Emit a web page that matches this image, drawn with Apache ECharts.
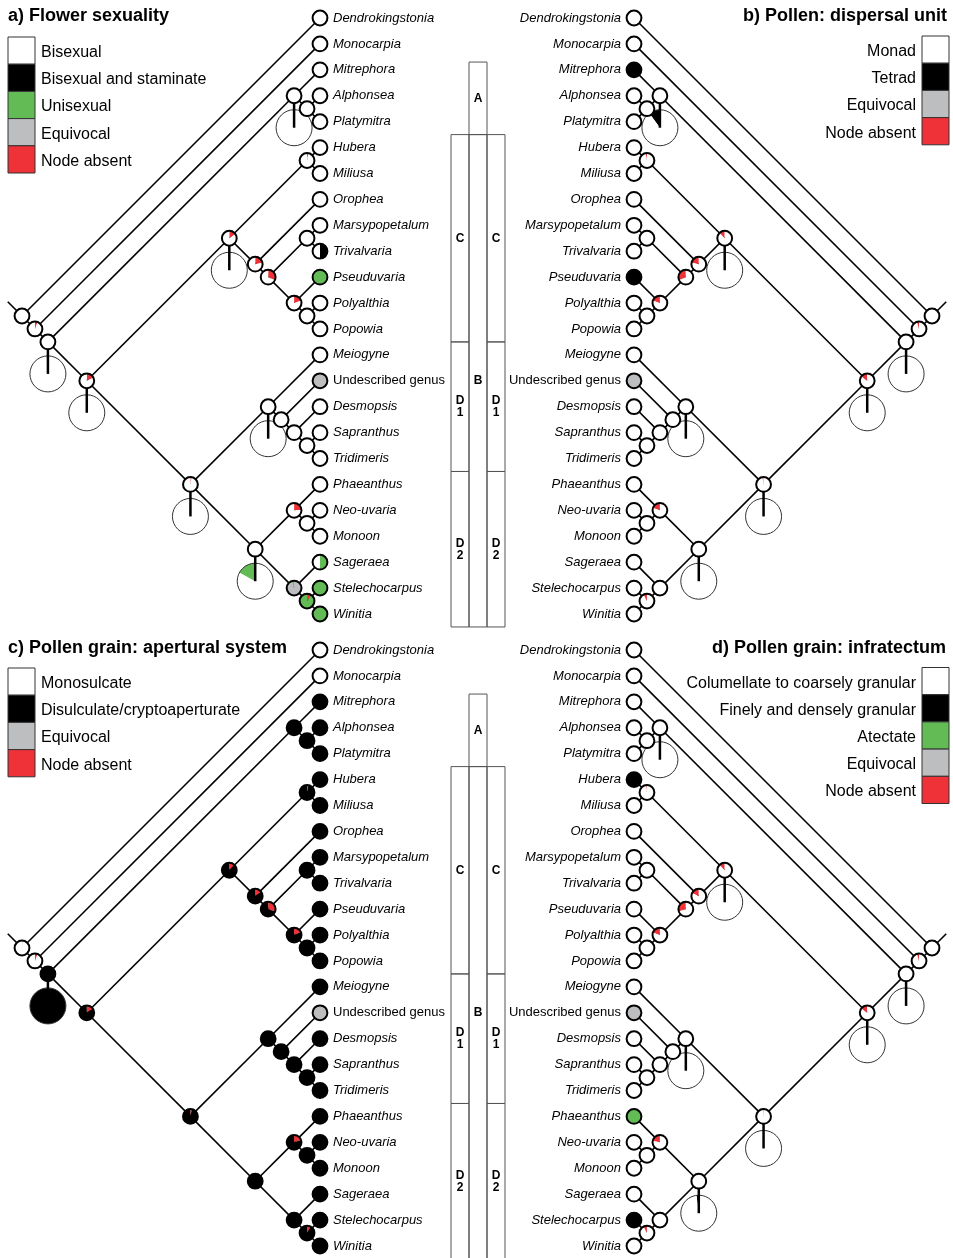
<!DOCTYPE html>
<html>
<head>
<meta charset="utf-8">
<script src="https://cdn.jsdelivr.net/npm/echarts@6/dist/echarts.min.js"></script>
<style>
  html, body { margin: 0; padding: 0; background: #fff; }
  #chart { width: 953px; height: 1258px; }
</style>
</head>
<body>
<div id="chart"></div>
<script>
// tip names, top to bottom
const tips = ['Dendrokingstonia', 'Monocarpia', 'Mitrephora', 'Alphonsea', 'Platymitra', 'Hubera', 'Miliusa',
  'Orophea', 'Marsypopetalum', 'Trivalvaria', 'Pseuduvaria', 'Polyalthia', 'Popowia', 'Meiogyne',
  'Undescribed genus', 'Desmopsis', 'Sapranthus', 'Tridimeris', 'Phaeanthus', 'Neo-uvaria', 'Monoon',
  'Sageraea', 'Stelechocarpus', 'Winitia'];
const plainTips = ['Undescribed genus'];

// topology (tip indices)
const cladeA = [2, [3, 4]];
const cladeC = [[5, 6], [7, [[8, 9], [10, [11, 12]]]]];
const cladeB = [13, [14, [15, [16, 17]]]];
const cladeD2 = [[18, [19, 20]], [21, [22, 23]]];
const tree = [0, [1, [cladeA, [cladeC, [cladeB, cladeD2]]]]];

// clade boxes in the middle: label, column, top edge, bottom edge (tip units)
const cladeBoxes = [['A', 1, 1.7, 4.5], ['C', 0, 4.5, 12.5], ['C', 2, 4.5, 12.5], ['B', 1, 4.5, 23.5],
  ['D\n1', 0, 12.5, 17.5], ['D\n1', 2, 12.5, 17.5], ['D\n2', 0, 17.5, 23.5], ['D\n2', 2, 17.5, 23.5]];

// pie codes: w white, k black, g green, e grey (equivocal), r red (node absent)
// "r.15 w" = 15% red then the rest white; internal nodes in preorder
const tipsA = ['w', 'w', 'w', 'w', 'w', 'w', 'w', 'w', 'w', 'k.5 w', 'g', 'w', 'w', 'w', 'e', 'w', 'w', 'w', 'w', 'w', 'w', 'g.5 w', 'g', 'g'];
const nodesA = ['w', 'r.06 w', 'w', 'w', 'w', 'r.18 w', 'r.15 w', 'r.03 w', 'r.22 w', 'r.32 w', 'w', 'r.2 w',
  'w', 'r.03 w', 'w', 'w', 'w', 'w', 'w', 'r.25 w', 'w', 'e.95 g', 'r.1 g'];
const bigA = [[2, 'w'], [3, 'w'], [5, 'w'], [6, 'w'], [13, 'w'], [14, 'w'], [18, 'w.83 g']];

const tipsB = ['w', 'w', 'k', 'w', 'w', 'w', 'w', 'w', 'w', 'w', 'k', 'w', 'w', 'w', 'e', 'w', 'w', 'w', 'w', 'w', 'w', 'w', 'w', 'w'];
const nodesB = ['w', 'r.05 w', 'w', 'w', 'w', 'r.15 w', 'r.12 w', 'r.03 w', 'r.22 w', 'r.32 w', 'w', 'r.2 w',
  'w', 'r.03 w', 'w', 'w', 'w', 'w', 'w', 'r.2 w', 'w', 'w', 'r.08 w'];
const bigB = [[2, 'w'], [3, 'k.1 w'], [5, 'w'], [6, 'w'], [13, 'w'], [14, 'w'], [18, 'w']];

const tipsC = ['w', 'w', 'k', 'k', 'k', 'k', 'k', 'k', 'k', 'k', 'k', 'k', 'k', 'k', 'e', 'k', 'k', 'k', 'k', 'k', 'k', 'k', 'k', 'k'];
const nodesC = ['k.01 w', 'r.06 w', 'k', 'k', 'k', 'r.15 k', 'r.12 k', 'r.03 k', 'r.15 k', 'r.3 k', 'k', 'r.18 k',
  'k', 'r.03 k', 'k', 'k', 'k', 'k', 'k', 'r.2 k', 'k', 'k', 'r.08 k'];
const bigC = [[2, 'k']];

const tipsD = ['w', 'w', 'w', 'w', 'w', 'k', 'w', 'w', 'w', 'w', 'w', 'w', 'w', 'w', 'e', 'w', 'w', 'w', 'g', 'w', 'w', 'w', 'k', 'w'];
const nodesD = ['w', 'r.05 w', 'w', 'w', 'w', 'r.15 w', 'r.12 w', 'r.02 w', 'r.18 w', 'r.3 w', 'w', 'r.2 w',
  'w', 'r.02 w', 'w', 'w', 'w', 'w', 'w', 'r.22 w', 'w', 'w', 'r.08 w'];
const bigD = [[2, 'w'], [3, 'w'], [5, 'w'], [6, 'w'], [13, 'w'], [14, 'w'], [18, 'k.02 w']];

// titles and legends
const titles = ['a) Flower sexuality', 'b) Pollen: dispersal unit', 'c) Pollen grain: apertural system', 'd) Pollen grain: infratectum'];
const legendA = ['Bisexual', 'Bisexual and staminate', 'Unisexual', 'Equivocal', 'Node absent'];
const legendAKeys = ['w', 'k', 'g', 'e', 'r'];
const legendB = ['Monad', 'Tetrad', 'Equivocal', 'Node absent'];
const legendBKeys = ['w', 'k', 'e', 'r'];
const legendC = ['Monosulcate', 'Disulculate/cryptoaperturate', 'Equivocal', 'Node absent'];
const legendCKeys = ['w', 'k', 'e', 'r'];
const legendD = ['Columellate to coarsely granular', 'Finely and densely granular', 'Atectate', 'Equivocal', 'Node absent'];
const legendDKeys = ['w', 'k', 'g', 'e', 'r'];

const COLORS = { w: '#ffffff', k: '#000000', g: '#62bb55', e: '#bcbec0', r: '#ee3237' };
const FONT = "'Liberation Sans', Arial, sans-serif";
const U = 596 / 23;       // px per tip step
const NODE_R = 7.4;
const BIG_R = 18;
const BIG_DROP = 32;      // px from node to big pie centre
const STEM = 0.55;        // root stem, tip units

// slanted cladogram layout
function layout(t) {
  const nodes = [];
  const edges = [];
  function walk(n) {
    if (typeof n === 'number') return { x: 0, y: n, lo: n, hi: n };
    const me = {};
    nodes.push(me);
    const kids = n.map(walk);
    me.lo = Math.min(...kids.map((k) => k.lo));
    me.hi = Math.max(...kids.map((k) => k.hi));
    me.y = (me.lo + me.hi) / 2;
    me.x = -(me.hi - me.lo) / 2;
    kids.forEach((k) => edges.push([me.x, me.y, k.x, k.y]));
    return me;
  }
  walk(t);
  const root = nodes[0];
  edges.push([root.x, root.y, root.x - STEM, root.y - STEM]);
  return { nodes, edges };
}
const { nodes, edges } = layout(tree);

function parsePie(code) {
  let used = 0;
  return code.split(' ').map((t) => {
    const f = t.length > 1 ? parseFloat(t.slice(1)) : 1 - used;
    used += f;
    return [t[0], f];
  });
}

function pieShapes(cx, cy, r, code, mirror, stroke, lw) {
  const out = [];
  let acc = 0;
  parsePie(code).forEach(([k, f]) => {
    if (f >= 0.999) {
      out.push({ type: 'circle', shape: { cx, cy, r }, style: { fill: COLORS[k] } });
    } else if (f > 0) {
      let a0 = -Math.PI / 2 + acc * 2 * Math.PI;
      let a1 = -Math.PI / 2 + (acc + f) * 2 * Math.PI;
      if (mirror) {
        const b0 = Math.PI - a1;
        const b1 = Math.PI - a0;
        a0 = b0;
        a1 = b1;
      }
      out.push({
        type: 'sector',
        shape: { cx, cy, r0: 0, r, startAngle: a0, endAngle: a1, clockwise: true },
        style: { fill: COLORS[k] },
      });
    }
    acc += f;
  });
  out.push({ type: 'circle', shape: { cx, cy, r }, style: { fill: 'none', stroke, lineWidth: lw } });
  return out;
}

const panels = [
  { left: 22, top: 18, mirror: false, tips: tipsA, nodes: nodesA, big: bigA },
  { left: 634, top: 18, mirror: true, tips: tipsB, nodes: nodesB, big: bigB },
  { left: 22, top: 650, mirror: false, tips: tipsC, nodes: nodesC, big: bigC },
  { left: 634, top: 650, mirror: true, tips: tipsD, nodes: nodesD, big: bigD },
];

const grid = [];
const xAxis = [];
const yAxis = [];
const series = [];

panels.forEach((p, i) => {
  grid.push({ left: p.left, top: p.top, width: 11.5 * U, height: 23 * U });
  xAxis.push({ gridIndex: i, type: 'value', min: -11.5, max: 0, inverse: p.mirror, show: false });
  yAxis.push({ gridIndex: i, type: 'value', min: 0, max: 23, inverse: true, show: false });

  // branches
  series.push({
    type: 'custom',
    xAxisIndex: i,
    yAxisIndex: i,
    z: 1,
    silent: true,
    data: edges,
    renderItem: (params, api) => {
      const a = api.coord([api.value(0), api.value(1)]);
      const b = api.coord([api.value(2), api.value(3)]);
      return {
        type: 'line',
        shape: { x1: a[0], y1: a[1], x2: b[0], y2: b[1] },
        style: { stroke: '#000', lineWidth: 1.6 },
      };
    },
  });

  // large pies hanging under some nodes
  series.push({
    type: 'custom',
    xAxisIndex: i,
    yAxisIndex: i,
    z: 2,
    silent: true,
    data: p.big.map(([idx]) => [nodes[idx].x, nodes[idx].y]),
    renderItem: (params, api) => {
      const c = api.coord([api.value(0), api.value(1)]);
      const cy = c[1] + BIG_DROP;
      const children = pieShapes(c[0], cy, BIG_R, p.big[params.dataIndex][1], p.mirror, '#333', 1);
      children.push({
        type: 'line',
        shape: { x1: c[0], y1: c[1], x2: c[0], y2: cy },
        style: { stroke: '#000', lineWidth: 2.5 },
      });
      return { type: 'group', children };
    },
  });

  // internal node pies
  series.push({
    type: 'custom',
    xAxisIndex: i,
    yAxisIndex: i,
    z: 3,
    silent: true,
    data: nodes.map((n) => [n.x, n.y]),
    renderItem: (params, api) => {
      const c = api.coord([api.value(0), api.value(1)]);
      return { type: 'group', children: pieShapes(c[0], c[1], NODE_R, p.nodes[params.dataIndex], p.mirror, '#000', 2) };
    },
  });

  // tips + names
  series.push({
    type: 'custom',
    xAxisIndex: i,
    yAxisIndex: i,
    z: 4,
    silent: true,
    data: tips.map((_, k) => [0, k]),
    renderItem: (params, api) => {
      const c = api.coord([api.value(0), api.value(1)]);
      const name = tips[params.dataIndex];
      const children = pieShapes(c[0], c[1], NODE_R, p.tips[params.dataIndex], p.mirror, '#000', 2);
      children.push({
        type: 'text',
        x: c[0] + (p.mirror ? -13 : 13),
        y: c[1],
        style: {
          text: name,
          align: p.mirror ? 'right' : 'left',
          verticalAlign: 'middle',
          fontSize: 13,
          fontStyle: plainTips.includes(name) ? 'normal' : 'italic',
          fontFamily: FONT,
          fill: '#000',
        },
      });
      return { type: 'group', children };
    },
  });
});

// middle clade columns, top and bottom halves
[18, 650].forEach((top) => {
  const gi = grid.length;
  grid.push({ left: 451, top, width: 54, height: 23 * U });
  xAxis.push({ gridIndex: gi, type: 'value', min: 0, max: 3, show: false });
  yAxis.push({ gridIndex: gi, type: 'value', min: 0, max: 23, inverse: true, show: false });
  series.push({
    type: 'custom',
    xAxisIndex: gi,
    yAxisIndex: gi,
    z: 1,
    silent: true,
    data: cladeBoxes.map((b) => [b[1], b[2], b[3]]),
    renderItem: (params, api) => {
      const a = api.coord([api.value(0), api.value(1)]);
      const b = api.coord([api.value(0) + 1, api.value(2)]);
      return {
        type: 'group',
        children: [
          {
            type: 'rect',
            shape: { x: a[0], y: a[1], width: b[0] - a[0], height: b[1] - a[1] },
            style: { fill: 'none', stroke: '#555', lineWidth: 1 },
          },
          {
            type: 'text',
            x: (a[0] + b[0]) / 2,
            y: (a[1] + b[1]) / 2,
            style: {
              text: cladeBoxes[params.dataIndex][0],
              align: 'center',
              verticalAlign: 'middle',
              fontSize: 12,
              fontWeight: 'bold',
              fontFamily: FONT,
              lineHeight: 12,
              fill: '#000',
            },
          },
        ],
      };
    },
  });
});

// titles and legends
const graphic = [];
const titlePos = [[8, 16.5, 'left'], [947, 16.5, 'right'], [8, 648.5, 'left'], [946, 648.5, 'right']];
titles.forEach((t, i) => {
  graphic.push({
    type: 'text',
    x: titlePos[i][0],
    y: titlePos[i][1],
    style: { text: t, align: titlePos[i][2], verticalAlign: 'middle', fontSize: 18, fontWeight: 'bold', fontFamily: FONT, fill: '#000' },
  });
});

const legendSpecs = [
  { labels: legendA, keys: legendAKeys, boxX: 8, top: 37, right: false },
  { labels: legendB, keys: legendBKeys, boxX: 922, top: 36, right: true },
  { labels: legendC, keys: legendCKeys, boxX: 8, top: 668, right: false },
  { labels: legendD, keys: legendDKeys, boxX: 922, top: 667.5, right: true },
];
const BOX_W = 27;
const BOX_H = 27.2;
legendSpecs.forEach((l) => {
  l.labels.forEach((label, k) => {
    const y = l.top + k * BOX_H;
    graphic.push({
      type: 'rect',
      shape: { x: l.boxX, y, width: BOX_W, height: BOX_H },
      style: { fill: COLORS[l.keys[k]], stroke: '#333', lineWidth: 1 },
    });
    graphic.push({
      type: 'text',
      x: l.right ? l.boxX - 6 : l.boxX + BOX_W + 6,
      y: y + BOX_H / 2 + 2,
      style: { text: label, align: l.right ? 'right' : 'left', verticalAlign: 'middle', fontSize: 16, fontFamily: FONT, fill: '#000' },
    });
  });
});

const chart = echarts.init(document.getElementById('chart'));
chart.setOption({
  animation: false,
  backgroundColor: '#fff',
  grid,
  xAxis,
  yAxis,
  series,
  graphic,
});
</script>
</body>
</html>
